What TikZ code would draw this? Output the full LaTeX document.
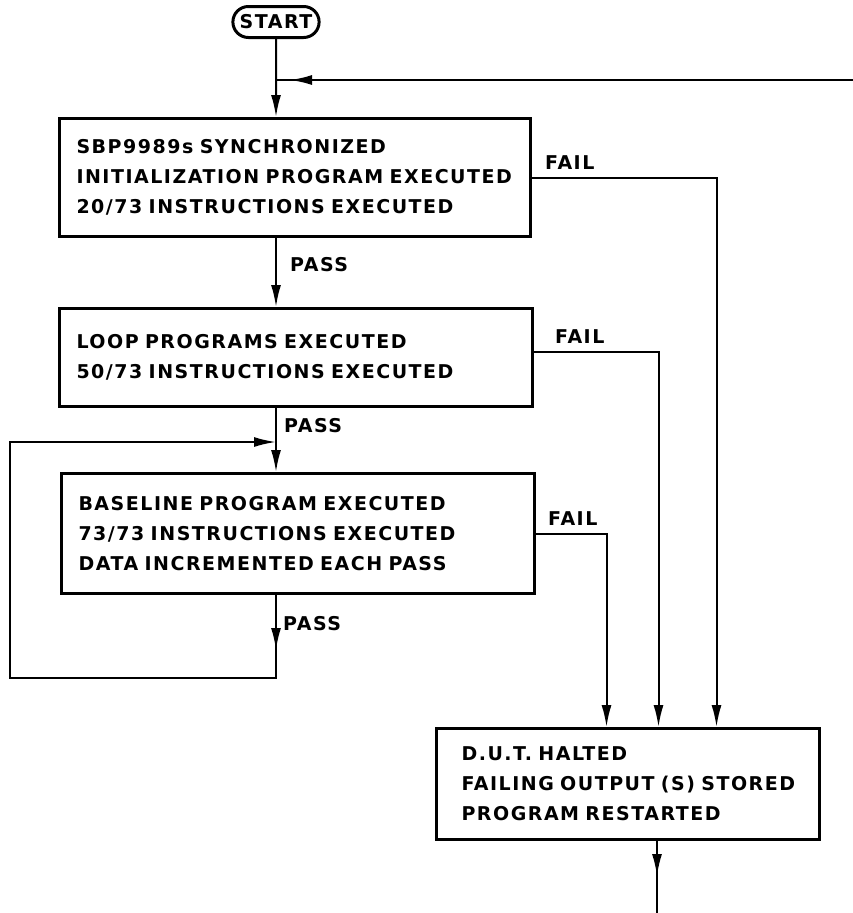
\documentclass[tikz,border=0pt]{standalone}
\usepackage{fontspec}
\newfontfamily\letterfont[LetterSpace=8,WordSpace=1.8]{DejaVu Sans}
\newcommand{\lettering}{\letterfont\bfseries\fontsize{19}{30}\selectfont}
\usetikzlibrary{arrows.meta,shapes.misc,decorations.markings}
\tikzset{
  box/.style={draw,line width=3pt,anchor=north west,align=left,inner xsep=17pt,font=\lettering},
  flow/.style={line width=2pt},
  arr/.style={flow,-{Latex[length=22pt,width=10pt]}},
  midarrow/.style={flow,postaction={decorate},
    decoration={markings,mark=at position #1 with {\arrow{Latex[length=22pt,width=10pt]}}}},
  lbl/.style={font=\lettering,inner sep=0pt,anchor=south west}
}

\begin{document}
\begin{tikzpicture}[x=1pt,y=-1pt]
\useasboundingbox (0,0) rectangle (853,913);
\node[rounded rectangle,draw,line width=3pt,minimum width=78pt,minimum height=31pt,inner xsep=5pt,inner ysep=0pt,font=\lettering] (start) at (276,22) {START};
\node[box,text width=437pt,minimum height=118pt] (init) at (58,117) {SBP9989s SYNCHRONIZED\\INITIALIZATION PROGRAM EXECUTED\\20/73 INSTRUCTIONS EXECUTED};
\node[box,text width=439pt,minimum height=98pt] (loop) at (58,307) {LOOP PROGRAMS EXECUTED\\50/73 INSTRUCTIONS EXECUTED};
\node[box,text width=439pt,minimum height=120pt] (base) at (60,472) {BASELINE PROGRAM EXECUTED\\73/73 INSTRUCTIONS EXECUTED\\DATA INCREMENTED EACH PASS};
\node[box,inner xsep=25pt,text width=333pt,minimum height=111pt] (halt) at (435,727) {D.U.T. HALTED\\FAILING OUTPUT (S) STORED\\PROGRAM RESTARTED};
% labels
\node[lbl] (pass1) at (290,272) {PASS};
\node[lbl] (pass2) at (284,433) {PASS};
\node[lbl] (pass3) at (283,631) {PASS};
\node[lbl] (fail1) at (545,170) {FAIL};
\node[lbl] (fail2) at (555,344) {FAIL};
\node[lbl] (fail3) at (548,526) {FAIL};
% junctions
\coordinate (fbin) at (853,80);
\coordinate (fbjoin) at (276,80);
\coordinate (lpA) at (276,678);
\coordinate (lpB) at (10,678);
\coordinate (lpC) at (10,442);
\coordinate (lpD) at (276,442);
\coordinate (out) at (657,913);
% main flow
\draw[arr] (start) -- (start |- init.north);
\draw[midarrow=563pt] (fbin) -- (fbjoin);
\draw[arr] (init.south -| start) -- (start |- loop.north);
\draw[arr] (loop.south -| start) -- (start |- base.north);
\draw[midarrow=55pt,-{Latex[length=22pt,width=10pt]}] (base.south -| lpA) -- (lpA) -- (lpB) -- (lpC) -- (lpD);
% fail paths
\draw[arr] (init.east) -| ([xshift=88.5pt]halt.north);
\draw[arr] ([yshift=6pt]loop.east) -| ([xshift=30.5pt]halt.north);
\draw[arr] (base.east) -| ([xshift=-21.5pt]halt.north);
\draw[midarrow=35pt] (halt.south -| out) -- (out);
\end{tikzpicture}
\end{document}
